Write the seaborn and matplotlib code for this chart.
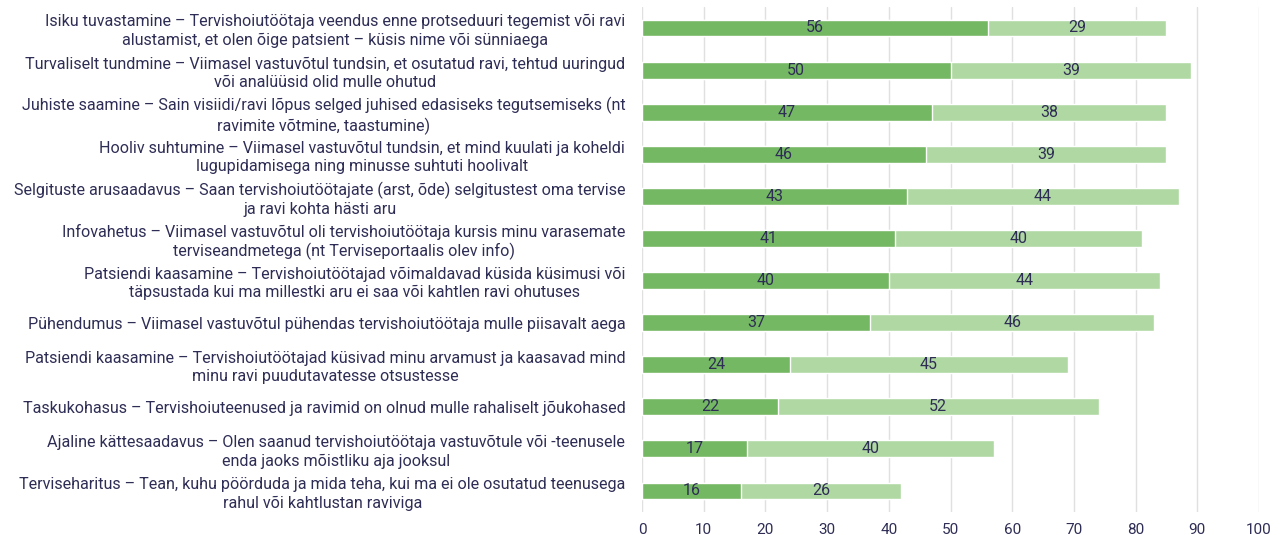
import pandas as pd
import matplotlib.pyplot as plt
import seaborn as sns

# Data
labels = [
    "Isiku tuvastamine – Tervishoiutöötaja veendus enne protseduuri tegemist või ravi\nalustamist, et olen õige patsient – küsis nime või sünniaega",
    "Turvaliselt tundmine – Viimasel vastuvõtul tundsin, et osutatud ravi, tehtud uuringud\nvõi analüüsid olid mulle ohutud",
    "Juhiste saamine – Sain visiidi/ravi lõpus selged juhised edasiseks tegutsemiseks (nt\nravimite võtmine, taastumine)",
    "Hooliv suhtumine – Viimasel vastuvõtul tundsin, et mind kuulati ja koheldi\nlugupidamisega ning minusse suhtuti hoolivalt",
    "Selgituste arusaadavus – Saan tervishoiutöötajate (arst, õde) selgitustest oma tervise\nja ravi kohta hästi aru",
    "Infovahetus – Viimasel vastuvõtul oli tervishoiutöötaja kursis minu varasemate\nterviseandmetega (nt Terviseportaalis olev info)",
    "Patsiendi kaasamine – Tervishoiutöötajad võimaldavad küsida küsimusi või\ntäpsustada kui ma millestki aru ei saa või kahtlen ravi ohutuses",
    "Pühendumus – Viimasel vastuvõtul pühendas tervishoiutöötaja mulle piisavalt aega",
    "Patsiendi kaasamine – Tervishoiutöötajad küsivad minu arvamust ja kaasavad mind\nminu ravi puudutavatesse otsustesse",
    "Taskukohasus – Tervishoiuteenused ja ravimid on olnud mulle rahaliselt jõukohased",
    "Ajaline kättesaadavus – Olen saanud tervishoiutöötaja vastuvõtule või -teenusele\nenda jaoks mõistliku aja jooksul",
    "Terviseharitus – Tean, kuhu pöörduda ja mida teha, kui ma ei ole osutatud teenusega\nrahul või kahtlustan raviviga",
]
strong = [56, 50, 47, 46, 43, 41, 40, 37, 24, 22, 17, 16]
mild = [29, 39, 38, 39, 44, 40, 44, 46, 45, 52, 40, 26]

df = pd.DataFrame({"label": labels, "strong": strong, "mild": mild})
df["total"] = df["strong"] + df["mild"]

dark_green = "#74b863"
light_green = "#b0d8a3"
text_color = "#2e2d55"

sns.set_theme(style="white")
plt.rcParams["font.family"] = ["Roboto", "DejaVu Sans"]

fig = plt.figure(figsize=(12.83, 5.35), dpi=100)
ax = fig.add_axes([0.5004, 0.043, 0.4809, 0.944])

# light bar = total, dark bar drawn on top = first segment
sns.barplot(data=df, x="total", y="label", color=light_green, width=0.4,
            saturation=1, ax=ax, zorder=2)
sns.barplot(data=df, x="strong", y="label", color=dark_green, width=0.4,
            saturation=1, ax=ax, zorder=3)

# value labels centred in each segment
for i, row in df.iterrows():
    ax.text(row["strong"] / 2, i, str(row["strong"]), ha="center", va="center",
            fontsize=11.5, color=text_color, zorder=4)
    ax.text(row["strong"] + row["mild"] / 2, i, str(row["mild"]), ha="center",
            va="center", fontsize=11.5, color=text_color, zorder=4)

ax.set_xlim(0, 100)
ax.set_ylim(len(df) - 0.5, -0.5)
ax.set_xticks(range(0, 101, 10))
ax.xaxis.grid(True, color="#e0e0e0", linewidth=1.0, zorder=0)
ax.set_axisbelow(True)
for s in ax.spines.values():
    s.set_visible(False)
ax.set_xlabel("")
ax.set_ylabel("")
ax.tick_params(axis="x", length=0, labelsize=11, labelcolor=text_color, pad=8)
ax.tick_params(axis="y", length=0, labelsize=11.6, labelcolor=text_color, pad=12)
for t in ax.get_yticklabels():
    t.set_multialignment("center")
    t.set_linespacing(1.25)

fig.savefig("out.png", dpi=100)
